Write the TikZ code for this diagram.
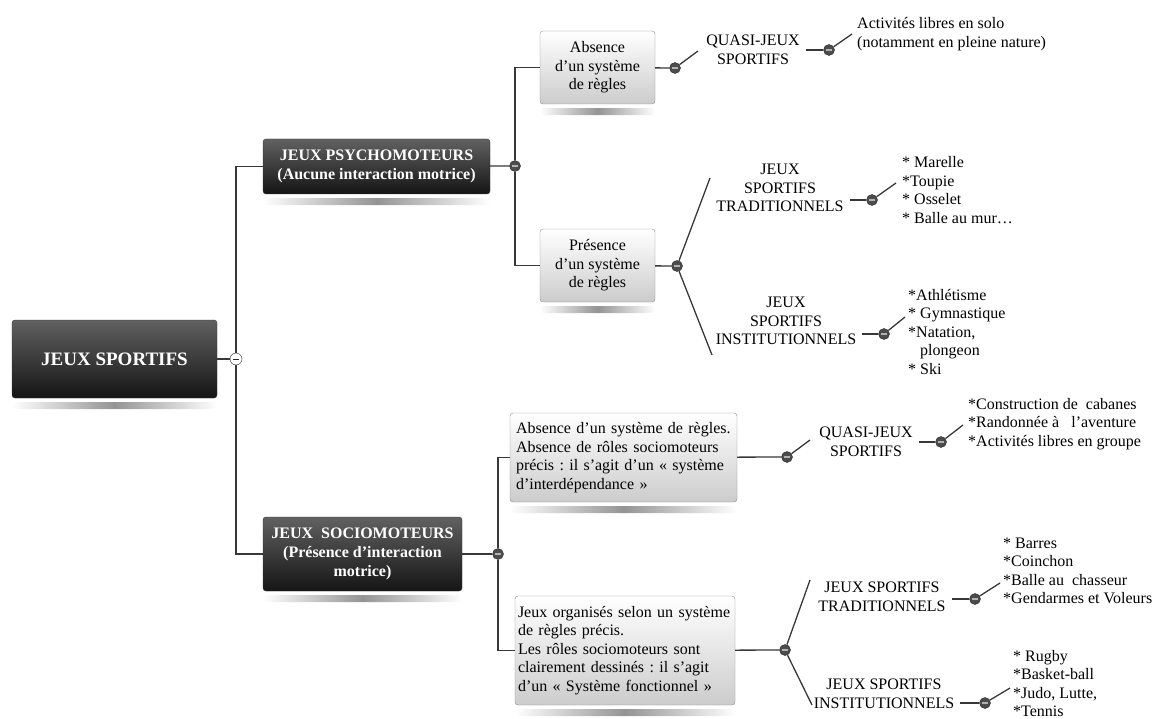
\documentclass[tikz,border=0pt]{standalone}
\usepackage{fontspec}
\setmainfont{Liberation Serif}
\usetikzlibrary{positioning}

\newcommand{\txt}{\fontsize{16}{18.5}\selectfont}

\tikzset{
  darkbox/.style={rectangle, rounded corners=3pt, draw=black!80, top color=black!62,
    bottom color=black!92, text=white, font=\fontsize{16}{19}\selectfont\bfseries,
    align=center, inner sep=2pt},
  lightbox/.style={rectangle, rounded corners=3pt, draw=black!45, top color=white,
    bottom color=black!20, font=\txt, inner sep=2pt},
  knob/.style={circle, draw=black!85, fill=black!70, minimum size=11pt, inner sep=0pt,
    path picture={\draw[black!30, line width=1.3pt]
      ([xshift=-2.6pt]path picture bounding box.center) -- ([xshift=2.6pt]path picture bounding box.center);}},
  openknob/.style={circle, draw=black!85, fill=white, minimum size=12pt, inner sep=0pt,
    path picture={\draw[black!85, line width=0.9pt]
      ([xshift=-2.8pt]path picture bounding box.center) -- ([xshift=2.8pt]path picture bounding box.center);}},
  link/.style={draw=black!78, line width=1.3pt},
  label/.style={font=\txt, align=center, inner xsep=6pt, inner ysep=0pt},
  items/.style={font=\txt, align=left, inner sep=0pt, anchor=west},
}

\newcommand{\shadowunder}[1]{%
  \shade[rounded corners=3pt, left color=white, right color=white, middle color=black!42]
    ([yshift=-4pt]#1.south west) rectangle ([yshift=-11pt]#1.south east);}

\frenchspacing
\begin{document}
\begin{tikzpicture}[x=1pt,y=-1pt]
\useasboundingbox (0,0) rectangle (1155,719);

% boxes
\node[darkbox, minimum width=205pt, minimum height=78pt,
  font=\fontsize{19}{22}\selectfont\bfseries] (root) at (114.5,359) {JEUX SPORTIFS};
\node[darkbox, minimum width=227pt, minimum height=55pt] (psycho) at (376.5,166.5)
  {JEUX PSYCHOMOTEURS\\(Aucune interaction motrice)};
\node[darkbox, minimum width=199pt, minimum height=74pt] (socio) at (362.5,554)
  {JEUX\ \ SOCIOMOTEURS\\(Présence d’interaction\\motrice)};
\node[lightbox, minimum width=115pt, minimum height=73pt, align=center] (absA) at (597.5,67.5)
  {Absence\\d’un système\\de règles};
\node[lightbox, minimum width=115pt, minimum height=73pt, align=center] (presA) at (597.5,265.5)
  {Présence\\d’un système\\de règles};
\node[lightbox, text width=215pt, inner xsep=6pt, minimum height=89pt, align=left] (absS) at (623.5,457.5)
  {Absence d’un système de règles.\\Absence de rôles sociomoteurs\\précis : il s’agit d’un « système\\d’interdépendance »};
\node[lightbox, text width=214pt, inner xsep=3pt, minimum height=109pt, align=left] (presS) at (625,650.5)
  {Jeux organisés selon un système\\de règles précis.\\Les rôles sociomoteurs sont\\clairement dessinés : il s’agit\\d’un « Système fonctionnel »};

\foreach \b in {root,psycho,socio,absA,presA,absS,presS} {\shadowunder{\b}}

% knobs
\node[openknob] (rootknob) at (236,359) {};
\node[knob] (psychoknob) at (515,166) {};
\node[knob] (socioknob) at (498,554) {};
\node[knob] (absAknob) at (675,68) {};
\node[knob] (presAknob) at (677,266) {};
\node[knob] (absSknob) at (787,457) {};
\node[knob] (presSknob) at (785,650) {};

% labels
\node[label] (quasiA) at (753,50) {QUASI-JEUX\\SPORTIFS};
\node[label] (tradA) at (780,188) {JEUX\\SPORTIFS\\TRADITIONNELS};
\node[label] (instiA) at (786,321) {JEUX\\SPORTIFS\\INSTITUTIONNELS};
\node[label] (quasiB) at (866,442) {QUASI-JEUX\\SPORTIFS};
\node[label] (tradB) at (882,597) {JEUX SPORTIFS\\TRADITIONNELS};
\node[label] (instiB) at (884,694) {JEUX SPORTIFS\\INSTITUTIONNELS};

\node[knob] (quasiAknob) at (829,50) {};
\node[knob] (tradAknob) at (872,200) {};
\node[knob] (instiAknob) at (884,334) {};
\node[knob] (quasiBknob) at (941,442) {};
\node[knob] (tradBknob) at (975,599) {};
\node[knob] (instiBknob) at (985,703) {};

% lists
\node[items] (soloA) at (857,34) {Activités libres en solo\\(notamment en pleine nature)};
\node[items] (listTA) at (902,190) {* Marelle\\*Toupie\\* Osselet\\* Balle au mur…};
\node[items] (listIA) at (908,332) {*Athlétisme\\* Gymnastique\\*Natation,\\\ \ \ plongeon\\* Ski};
\node[items] (listQB) at (968,424) {*Construction de\ \ cabanes\\*Randonnée à\ \ \ l’aventure\\*Activités libres en groupe};
\node[items] (listTB) at (1003,571) {* Barres\\*Coinchon\\*Balle au\ \ chasseur\\*Gendarmes et Voleurs};
\node[items, anchor=south west] (listIB) at (1013,717) {* Rugby\\*Basket-ball\\*Judo, Lutte,\\*Tennis};

% free ends of the slanted links
\coordinate (quasiAend) at (698,51);
\coordinate (soloAend) at (852,34);
\coordinate (tradAend) at (710,178);
\coordinate (instiAend) at (712,355);
\coordinate (listTAend) at (896,183);
\coordinate (listIAend) at (905,317);
\coordinate (quasiBend) at (810,440);
\coordinate (listQBend) at (963,425);
\coordinate (tradBend) at (810,580);
\coordinate (instiBend) at (812,705);
\coordinate (listTBend) at (1000,583);
\coordinate (listIBend) at (1010,688);

% tree links
\draw[link] (root) -- (rootknob);
\draw[link] (rootknob) |- (psycho.west);
\draw[link] (rootknob) |- (socio.west);
\draw[link] (psycho) -- (psychoknob);
\draw[link] (psychoknob) |- (absA.west);
\draw[link] (psychoknob) |- (presA.west);
\draw[link] (socio) -- (socioknob);
\draw[link] (socioknob) |- (absS.west);
\draw[link] (socioknob) |- (presS.west);
\draw[link] (absA) -- (absAknob);
\draw[link] (presA) -- (presAknob);
\draw[link] (absS) -- (absSknob);
\draw[link] (presS) -- (presSknob);

\draw[link] (absAknob) -- (quasiAend);
\draw[link] (presAknob) -- (tradAend);
\draw[link] (presAknob) -- (instiAend);
\draw[link] (absSknob) -- (quasiBend);
\draw[link] (presSknob) -- (tradBend);
\draw[link] (presSknob) -- (instiBend);

\draw[link] (quasiA.east |- quasiAknob) -- (quasiAknob);
\draw[link] (tradA.east |- tradAknob) -- (tradAknob);
\draw[link] (instiA.east |- instiAknob) -- (instiAknob);
\draw[link] (quasiB.east |- quasiBknob) -- (quasiBknob);
\draw[link] (tradB.east |- tradBknob) -- (tradBknob);
\draw[link] (instiB.east |- instiBknob) -- (instiBknob);

\draw[link] (quasiAknob) -- (soloAend);
\draw[link] (tradAknob) -- (listTAend);
\draw[link] (instiAknob) -- (listIAend);
\draw[link] (quasiBknob) -- (listQBend);
\draw[link] (tradBknob) -- (listTBend);
\draw[link] (instiBknob) -- (listIBend);
\end{tikzpicture}
\end{document}
